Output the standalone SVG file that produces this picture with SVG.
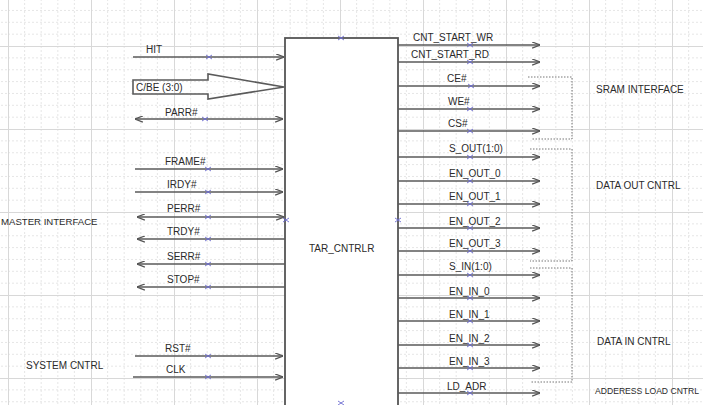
<svg xmlns="http://www.w3.org/2000/svg" width="703" height="405" viewBox="0 0 703 405">
  <style>
    text { font-family: "Liberation Sans", Arial, sans-serif; font-size: 10px; fill: #2a2a2a; }
    .sig { stroke: #5a5a5a; stroke-width: 1.6; fill: none; }
    .box { stroke: #555; stroke-width: 1.8; fill: #fff; }
    .brk { stroke: #777; stroke-width: 1; stroke-dasharray: 1.5 1.5; fill: none; }
    .hnd { stroke: #6b6bd0; stroke-width: 0.9; fill: none; }
  </style>
  <defs>
    <pattern id="grid" x="8" y="46" width="83" height="83" patternUnits="userSpaceOnUse">
      <path d="M16.6,0V83M33.2,0V83M49.8,0V83M66.4,0V83" stroke="#e0e0e0" stroke-width="0.8" stroke-dasharray="2 2"/>
      <path d="M0,11.86H83M0,23.72H83M0,35.58H83M0,47.44H83M0,59.3H83M0,71.16H83" stroke="#e0e0e0" stroke-width="0.8" stroke-dasharray="2 2"/>
      <path d="M0.5,0V83M0,0.5H83" stroke="#d8d8d8" stroke-width="1"/>
    </pattern>
    <marker id="arr" viewBox="0 0 10 8" refX="10" refY="4" markerWidth="9" markerHeight="7" orient="auto-start-reverse" markerUnits="userSpaceOnUse">
      <path d="M1,0.5 L10,4 L1,7.5" fill="none" stroke="#555" stroke-width="1.4"/>
    </marker>
    <path id="h" d="M-3,-2 L3,2 M-3,2 L3,-2"/>
  </defs>

  <rect width="703" height="405" fill="#fff"/>
  <rect width="703" height="405" fill="url(#grid)"/>

  <g id="tar_cntrlr">
    <rect class="box" x="285" y="38" width="113" height="368"/>
    <text x="309" y="252">TAR_CNTRLR</text>
  </g>

  <g id="cbe_bus">
    <path class="sig" d="M133,80 H208 V74 L284,87 L208,99 V94 H133 Z" fill="#fff"/>
    <text x="136" y="91">C/BE (3:0)</text>
  </g>

  <g id="master_interface"><text x="1" y="225" style="font-size:9.6px">MASTER INTERFACE</text></g>
  <g id="system_cntrl"><text x="26" y="369">SYSTEM CNTRL</text></g>
  <g id="sram_interface">
    <path class="brk" d="M528,77 H572 V139 H531"/>
    <text x="596" y="93">SRAM INTERFACE</text>
  </g>
  <g id="data_out_cntrl">
    <path class="brk" d="M530,149 H572 V261 H530"/>
    <text x="596" y="189">DATA OUT CNTRL</text>
  </g>
  <g id="data_in_cntrl">
    <path class="brk" d="M530,268 H572 V382 H530"/>
    <text x="597" y="345">DATA IN CNTRL</text>
  </g>
  <g id="address_load_cntrl"><text x="595" y="394" style="font-size:8.6px">ADDERESS LOAD CNTRL</text></g>

  <g id="connectors">
    <path class="sig" d="M133,57 H284" marker-end="url(#arr)"/><text x="146" y="53">HIT</text>
    <path class="sig" d="M135,119 H283" marker-start="url(#arr)" marker-end="url(#arr)"/><text x="165" y="116">PARR#</text>
    <path class="sig" d="M135,169 H283" marker-end="url(#arr)"/><text x="165" y="165">FRAME#</text>
    <path class="sig" d="M135,192 H283" marker-end="url(#arr)"/><text x="167" y="188">IRDY#</text>
    <path class="sig" d="M137,217 H284" marker-start="url(#arr)" marker-end="url(#arr)"/><text x="167" y="212">PERR#</text>
    <path class="sig" d="M285,239 H137" marker-end="url(#arr)"/><text x="167" y="235">TRDY#</text>
    <path class="sig" d="M285,264 H137" marker-end="url(#arr)"/><text x="167" y="260">SERR#</text>
    <path class="sig" d="M285,287 H137" marker-end="url(#arr)"/><text x="167" y="283">STOP#</text>
    <path class="sig" d="M135,356 H283" marker-end="url(#arr)"/><text x="165" y="352">RST#</text>
    <path class="sig" d="M133,377 H283" marker-end="url(#arr)"/><text x="166" y="373">CLK</text>

    <path class="sig" d="M398,45 H540" marker-end="url(#arr)"/><text x="413" y="41">CNT_START_WR</text>
    <path class="sig" d="M398,62 H540" marker-end="url(#arr)"/><text x="411" y="58">CNT_START_RD</text>
    <path class="sig" d="M398,86 H540" marker-end="url(#arr)"/><text x="447" y="82">CE#</text>
    <path class="sig" d="M398,109 H540" marker-end="url(#arr)"/><text x="448" y="105">WE#</text>
    <path class="sig" d="M398,131 H540" marker-end="url(#arr)"/><text x="448" y="127">CS#</text>
    <path class="sig" d="M398,157 H540" marker-end="url(#arr)"/><text x="449" y="152">S_OUT(1:0)</text>
    <path class="sig" d="M398,181 H540" marker-end="url(#arr)"/><text x="449" y="177">EN_OUT_0</text>
    <path class="sig" d="M398,204 H540" marker-end="url(#arr)"/><text x="449" y="200">EN_OUT_1</text>
    <path class="sig" d="M398,228 H540" marker-end="url(#arr)"/><text x="449" y="225">EN_OUT_2</text>
    <path class="sig" d="M398,251 H540" marker-end="url(#arr)"/><text x="449" y="247">EN_OUT_3</text>
    <path class="sig" d="M398,275 H540" marker-end="url(#arr)"/><text x="449" y="270">S_IN(1:0)</text>
    <path class="sig" d="M398,298 H540" marker-end="url(#arr)"/><text x="449" y="295">EN_IN_0</text>
    <path class="sig" d="M398,321 H540" marker-end="url(#arr)"/><text x="449" y="318">EN_IN_1</text>
    <path class="sig" d="M398,345 H540" marker-end="url(#arr)"/><text x="449" y="342">EN_IN_2</text>
    <path class="sig" d="M398,368 H540" marker-end="url(#arr)"/><text x="449" y="365">EN_IN_3</text>
    <path class="sig" d="M398,393 H540" marker-end="url(#arr)"/><text x="447" y="390">LD_ADR</text>
  </g>

  <g id="handles" class="hnd">
    <use href="#h" x="209" y="57"/><use href="#h" x="205" y="119"/><use href="#h" x="208" y="169"/>
    <use href="#h" x="208" y="192"/><use href="#h" x="208" y="217"/><use href="#h" x="208" y="239"/>
    <use href="#h" x="208" y="264"/><use href="#h" x="208" y="287"/><use href="#h" x="208" y="356"/>
    <use href="#h" x="208" y="377"/><use href="#h" x="341" y="38"/><use href="#h" x="341" y="403"/>
    <use href="#h" x="286" y="220"/><use href="#h" x="398" y="220"/>
    <use href="#h" x="470" y="45"/><use href="#h" x="470" y="62"/><use href="#h" x="471" y="86"/>
    <use href="#h" x="470" y="109"/><use href="#h" x="470" y="131"/><use href="#h" x="470" y="157"/>
    <use href="#h" x="470" y="181"/><use href="#h" x="470" y="204"/><use href="#h" x="470" y="228"/>
    <use href="#h" x="470" y="251"/><use href="#h" x="470" y="275"/><use href="#h" x="470" y="298"/>
    <use href="#h" x="470" y="321"/><use href="#h" x="470" y="345"/><use href="#h" x="470" y="368"/>
    <use href="#h" x="470" y="393"/>
  </g>
</svg>
